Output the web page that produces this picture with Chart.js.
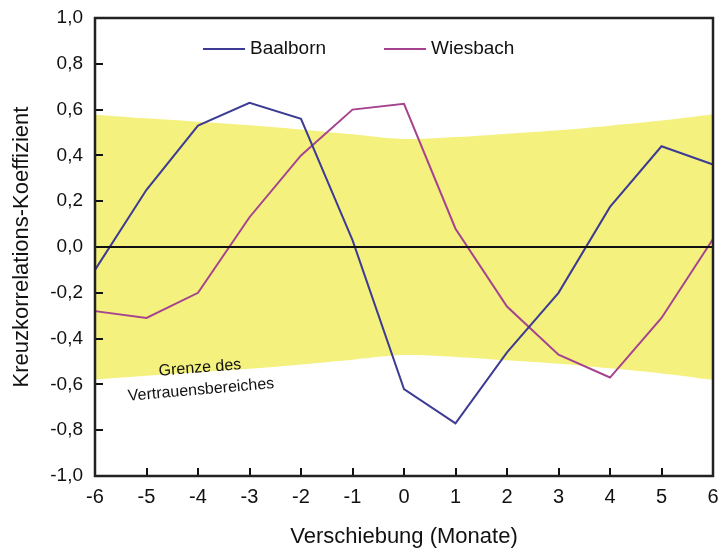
<!DOCTYPE html>
<html>
<head>
<meta charset="utf-8">
<script src="https://cdn.jsdelivr.net/npm/chart.js@4/dist/chart.umd.min.js"></script>
<style>
  html, body { margin: 0; padding: 0; background: #fff; }
  #wrap { width: 718px; height: 550px; }
</style>
</head>
<body>
<div id="wrap"><canvas id="myChart" width="718" height="550"></canvas></div>
<script>
'use strict';

// lag in months
let lags = [-6, -5, -4, -3, -2, -1, 0, 1, 2, 3, 4, 5, 6];

let baalborn = [-0.10, 0.25, 0.53, 0.63, 0.56, 0.03, -0.62, -0.77, -0.46, -0.20, 0.175, 0.44, 0.36];
let wiesbach = [-0.28, -0.31, -0.20, 0.13, 0.40, 0.60, 0.625, 0.08, -0.26, -0.47, -0.57, -0.31, 0.035];

// confidence limit (upper edge, lower edge is the mirror)
let bandUpper = [0.578, 0.562, 0.547, 0.532, 0.513, 0.492, 0.472, 0.48, 0.495, 0.51, 0.53, 0.552, 0.58];
let bandLower = [-0.578, -0.562, -0.547, -0.532, -0.513, -0.492, -0.472, -0.48, -0.495, -0.51, -0.53, -0.552, -0.58];

let seriesNames = ['Baalborn', 'Wiesbach'];
let bandText = ['Grenze des', 'Vertrauensbereiches'];

let blue = '#3d3b93';
let purple = '#a6438f';
let yellow = '#f4f17f';
let font = '"Liberation Sans", Arial, sans-serif';

function fmt(v) {
  return v.toFixed(1).replace('.', ',');
}

let extras = {
  id: 'extras',
  afterDatasetsDraw(chart) {
    let ctx = chart.ctx;
    let area = chart.chartArea;
    let x = chart.scales.x;
    let y = chart.scales.y;

    ctx.save();
    // zero line
    let y0 = y.getPixelForValue(0);
    ctx.strokeStyle = '#111';
    ctx.lineWidth = 2;
    ctx.beginPath();
    ctx.moveTo(area.left, y0);
    ctx.lineTo(area.right, y0);
    ctx.stroke();

    // inside ticks
    ctx.strokeStyle = '#111';
    ctx.lineWidth = 2;
    ctx.beginPath();
    y.ticks.forEach(function (t) {
      let py = Math.round(y.getPixelForValue(t.value));
      ctx.moveTo(area.left, py);
      ctx.lineTo(area.left + 8, py);
    });
    for (let i = 0; i < lags.length; i++) {
      let px = Math.round(x.getPixelForValue(i));
      ctx.moveTo(px, area.bottom);
      ctx.lineTo(px, area.bottom - 8);
    }
    ctx.stroke();

    // frame
    ctx.strokeStyle = '#222';
    ctx.lineWidth = 2.5;
    ctx.strokeRect(area.left, area.top, area.right - area.left, area.bottom - area.top);

    // legend
    let legendX = [203, 384];
    let colors = [blue, purple];
    ctx.font = '19px ' + font;
    ctx.textBaseline = 'middle';
    ctx.textAlign = 'left';
    for (let i = 0; i < seriesNames.length; i++) {
      ctx.strokeStyle = colors[i];
      ctx.lineWidth = 2;
      ctx.beginPath();
      ctx.moveTo(legendX[i], 49);
      ctx.lineTo(legendX[i] + 42, 49);
      ctx.stroke();
      ctx.fillStyle = '#111';
      ctx.fillText(seriesNames[i], legendX[i] + 47, 49);
    }

    // band label
    ctx.font = '16px ' + font;
    ctx.textAlign = 'center';
    ctx.fillStyle = '#111';
    ctx.save();
    ctx.translate(200, 368);
    ctx.rotate(-4.5 * Math.PI / 180);
    ctx.fillText(bandText[0], 0, 0);
    ctx.restore();
    ctx.save();
    ctx.translate(201, 390);
    ctx.rotate(-5 * Math.PI / 180);
    ctx.fillText(bandText[1], 0, 0);
    ctx.restore();

    ctx.restore();
  }
};

let ctx = document.getElementById('myChart').getContext('2d');

let myChart = new Chart(ctx, {
  type: 'line',
  data: {
    labels: lags,
    datasets: [{
      label: seriesNames[0],
      data: baalborn,
      borderColor: blue,
      borderWidth: 2,
      pointRadius: 0,
      fill: false,
      order: 1
    }, {
      label: seriesNames[1],
      data: wiesbach,
      borderColor: purple,
      borderWidth: 2,
      pointRadius: 0,
      fill: false,
      order: 1
    }, {
      label: 'upper',
      data: bandUpper,
      borderWidth: 0,
      borderColor: 'rgba(0,0,0,0)',
      backgroundColor: yellow,
      pointRadius: 0,
      tension: 0.4,
      fill: '+1',
      order: 3
    }, {
      label: 'lower',
      data: bandLower,
      borderWidth: 0,
      borderColor: 'rgba(0,0,0,0)',
      pointRadius: 0,
      tension: 0.4,
      fill: false,
      order: 3
    }]
  },
  options: {
    responsive: false,
    animation: false,
    layout: {
      padding: { top: 18, right: 5, left: 0, bottom: 0 }
    },
    plugins: {
      legend: { display: false },
      tooltip: { enabled: false }
    },
    scales: {
      x: {
        offset: false,
        grid: { display: false, drawTicks: false },
        border: { display: false },
        ticks: {
          color: '#111',
          font: { family: font, size: 20 },
          padding: 9,
          maxRotation: 0,
          autoSkip: false
        },
        title: {
          display: true,
          text: 'Verschiebung (Monate)',
          color: '#111',
          font: { family: font, size: 22 },
          padding: { top: 0, bottom: 0 }
        },
        afterFit(scale) {
          scale.height = 74;
          scale.paddingLeft = 0;
          scale.paddingRight = 0;
        }
      },
      y: {
        min: -1,
        max: 1,
        grid: { display: false, drawTicks: false },
        border: { display: false },
        ticks: {
          stepSize: 0.1,
          color: '#111',
          font: { family: font, size: 19 },
          padding: 12,
          callback: function (v) {
            let k = Math.round(v * 10);
            return k % 2 === 0 ? fmt(k / 10) : '';
          }
        },
        title: {
          display: true,
          text: 'Kreuzkorrelations-Koeffizient',
          color: '#111',
          font: { family: font, size: 22 },
          padding: { top: 9, bottom: 0 }
        },
        afterFit(scale) {
          scale.width = 95;
          scale.paddingTop = 0;
          scale.paddingBottom = 0;
        }
      }
    }
  },
  plugins: [extras]
});
</script>
</body>
</html>
